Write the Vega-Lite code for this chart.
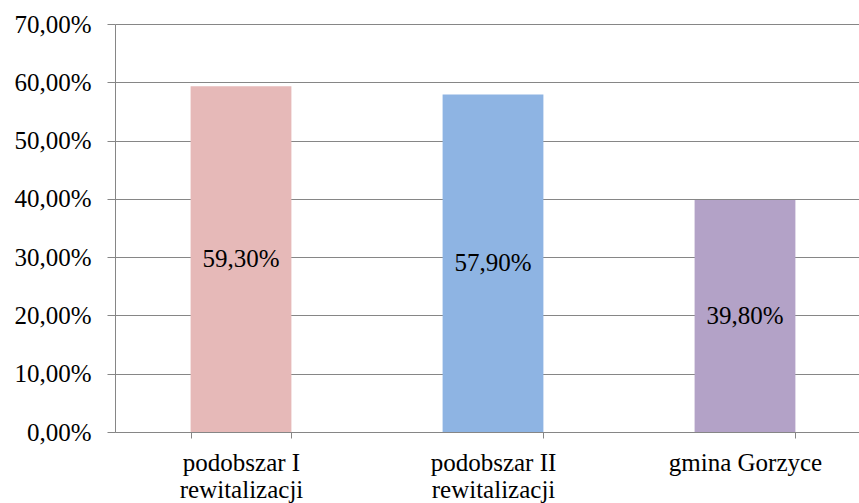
{
  "$schema": "https://vega.github.io/schema/vega-lite/v6.json",
  "width": 741,
  "height": 408,
  "autosize": "none",
  "padding": {"left": 115, "top": 24, "right": 3, "bottom": 71},
  "background": "white",
  "config": {
    "locale": {"number": {"decimal": ",", "thousands": " ", "grouping": [3], "currency": ["", " zł"]}},
    "view": {"stroke": null},
    "font": "Liberation Serif"
  },
  "data": {
    "values": [
      {"category": "podobszar I\nrewitalizacji", "value": 0.593},
      {"category": "podobszar II\nrewitalizacji", "value": 0.579},
      {"category": "gmina Gorzyce", "value": 0.398}
    ]
  },
  "transform": [{"calculate": "datum.value / 2", "as": "mid"}],
  "encoding": {
    "x": {
      "field": "category",
      "type": "nominal",
      "sort": null,
      "scale": {"paddingInner": 0.6, "paddingOuter": 0.3, "range": [0, 756]},
      "axis": {
        "title": null,
        "labelAngle": 0,
        "labelExpr": "split(datum.label, '\\n')",
        "labelFont": "Liberation Serif",
        "labelFontSize": 25,
        "labelColor": "#000000",
        "labelLineHeight": 27,
        "labelPadding": 12,
        "tickBand": "extent",
        "tickSize": 6,
        "tickColor": "#868686",
        "domainColor": "#868686",
        "domainWidth": 1,
        "grid": false
      }
    }
  },
  "layer": [
    {
      "mark": {"type": "bar"},
      "encoding": {
        "y": {
          "field": "value",
          "type": "quantitative",
          "scale": {"domain": [0, 0.7], "nice": false},
          "axis": {
            "title": null,
            "values": [0, 0.1, 0.2, 0.3, 0.4, 0.5, 0.6, 0.7],
            "format": ".2%",
            "labelFont": "Liberation Serif",
            "labelFontSize": 25,
            "labelColor": "#000000",
            "labelPadding": 16,
            "tickSize": 8,
            "tickColor": "#868686",
            "domainColor": "#868686",
            "gridColor": "#868686",
            "grid": true
          }
        },
        "color": {
          "field": "category",
          "type": "nominal",
          "sort": null,
          "scale": {"range": ["#E6B9B8", "#8EB4E3", "#B3A2C7"]},
          "legend": null
        }
      }
    },
    {
      "mark": {"type": "text", "font": "Liberation Serif", "fontSize": 25, "color": "#000000", "baseline": "middle", "align": "center"},
      "encoding": {
        "y": {"field": "mid", "type": "quantitative"},
        "text": {"field": "value", "type": "quantitative", "format": ".2%"}
      }
    }
  ]
}
